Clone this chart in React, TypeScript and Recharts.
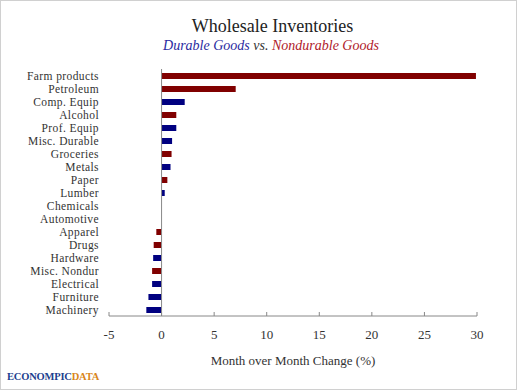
import { BarChart, Bar, XAxis, YAxis, Cell, ReferenceLine } from 'recharts'

const categories = [
  'Farm products', 'Petroleum', 'Comp. Equip', 'Alcohol', 'Prof. Equip', 'Misc. Durable',
  'Groceries', 'Metals', 'Paper', 'Lumber', 'Chemicals', 'Automotive', 'Apparel', 'Drugs',
  'Hardware', 'Misc. Nondur', 'Electrical', 'Furniture', 'Machinery',
]
const changes = [29.9, 7.05, 2.2, 1.4, 1.4, 1.0, 0.95, 0.85, 0.55, 0.3, 0, 0, -0.5, -0.75, -0.8, -0.9, -0.9, -1.25, -1.45]
const goodsType = ['N', 'N', 'D', 'N', 'D', 'D', 'N', 'D', 'N', 'D', 'N', 'D', 'N', 'N', 'D', 'N', 'D', 'D', 'D']
const xTicks = [-5, 0, 5, 10, 15, 20, 25, 30]

const RED = '#800000'
const BLUE = '#000080'
const serif = '"Liberation Serif", "DejaVu Serif", serif'

const data = categories.map((name, i) => ({ name, change: changes[i], type: goodsType[i] }))

export default function App() {
  return (
    <div
      style={{
        position: 'fixed',
        top: 0,
        left: 0,
        width: 515,
        height: 388,
        border: '1px solid #d0d0d0',
        background: '#fff',
        fontFamily: serif,
      }}
    >
      <div style={{ position: 'absolute', top: 15, left: 0, width: 543, textAlign: 'center', fontSize: 18, color: '#222' }}>
        Wholesale Inventories
      </div>
      <div style={{ position: 'absolute', top: 37, left: 0, width: 540, textAlign: 'center', fontSize: 14, fontStyle: 'italic', fontFamily: serif }}>
        <span style={{ color: '#2a2aa0' }}>Durable Goods</span>
        <span style={{ color: '#333' }}> vs. </span>
        <span style={{ color: '#b0202a' }}>Nondurable Goods</span>
      </div>
      <div style={{ position: 'absolute', top: 370, left: 6, fontSize: 10.5, fontWeight: 'bold', letterSpacing: -0.2 }}>
        <span style={{ color: '#1d3f8f' }}>ECONOMPIC</span>
        <span style={{ color: '#d9861a' }}>DATA</span>
      </div>
      <div style={{ position: 'absolute', top: 0, left: 0 }}>
        <BarChart
          width={515}
          height={388}
          data={data}
          layout="vertical"
          barCategoryGap={0}
          margin={{ top: 68, right: 39, left: 0, bottom: 21 }}
        >
          <XAxis
            type="number"
            domain={[-5, 30]}
            ticks={xTicks}
            stroke="#888"
            tickSize={-4}
            tickMargin={18}
            tick={{ fill: '#333', fontSize: 13, fontFamily: serif }}
            height={52}
            label={{
              value: 'Month over Month Change (%)',
              position: 'insideBottom',
              offset: 3,
              fill: '#333',
              fontSize: 13,
              fontFamily: serif,
            }}
          />
          <YAxis
            type="category"
            dataKey="name"
            width={108}
            axisLine={false}
            tickLine={false}
            tickMargin={4}
            interval={0}
            tick={{ fill: '#333', fontSize: 11.5, fontFamily: serif, letterSpacing: 0.4 }}
          />
          <ReferenceLine x={0} stroke="#888" />
          <Bar dataKey="change" barSize={6} isAnimationActive={false}>
            {data.map((d, i) => (
              <Cell key={i} fill={d.type === 'D' ? BLUE : RED} />
            ))}
          </Bar>
        </BarChart>
      </div>
    </div>
  )
}
